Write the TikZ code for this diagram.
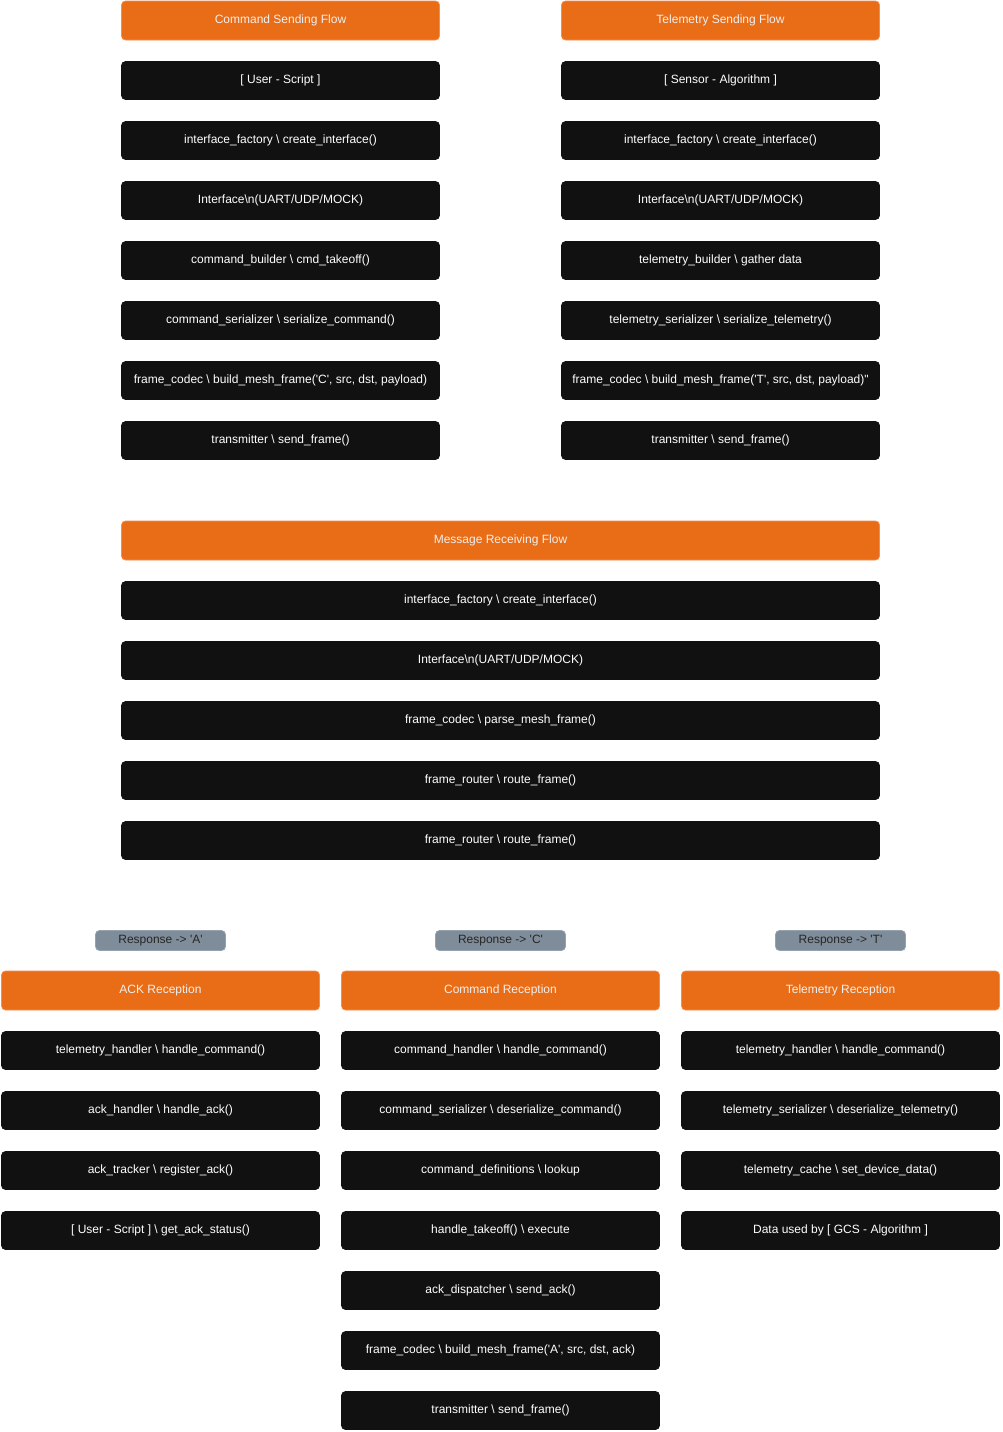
\documentclass[tikz,border=0pt]{standalone}
\usepackage{fontspec}
\setmainfont{Liberation Sans}[Ligatures=TeXOff]
\usepackage{xcolor}
\usetikzlibrary{shapes}

\definecolor{flowOrange}{RGB}{233,109,22}
\definecolor{flowOrangeEdge}{RGB}{246,140,80}
\definecolor{stepBlack}{RGB}{17,17,17}
\definecolor{tagGray}{RGB}{127,140,154}
\definecolor{tagGrayEdge}{RGB}{150,162,175}

\newcommand{\bsl}{\textbackslash}
\newcommand{\us}{\textunderscore}

\tikzset{
  basebox/.style={rectangle, rounded corners=4, inner sep=0, font=\fontsize{12}{14}\selectfont, line width=0.75},
  headbox/.style={basebox, fill=flowOrange, draw=flowOrangeEdge, text=white!94!black, minimum height=39},
  stepbox/.style={basebox, fill=stepBlack, draw=stepBlack, text=white, minimum height=38},
  tagbox/.style={basebox, fill=tagGray, draw=tagGrayEdge, text=black!85, minimum width=130, minimum height=20},
  narrow/.style={minimum width=318},
  wide/.style={minimum width=758}
}

\begin{document}
\begin{tikzpicture}[x=1pt,y=1pt,yscale=-1,xscale=1]

        \useasboundingbox (0,0) rectangle (1002,1432);

        % command sending flow
        \node[headbox, narrow] (cmdHead) at (280.5,20.5) {Command Sending Flow};
        \node[stepbox, narrow] (cmdUser) at (280.5,80.5) {[ User - Script ]};
        \node[stepbox, narrow] (cmdFactory) at (280.5,140.5) {interface\us factory \bsl{} create\us interface()};
        \node[stepbox, narrow] (cmdIface) at (280.5,200.5) {Interface\bsl n(UART/UDP/MOCK)};
        \node[stepbox, narrow] (cmdBuilder) at (280.5,260.5) {command\us builder \bsl{} cmd\us takeoff()};
        \node[stepbox, narrow] (cmdSerial) at (280.5,320.5) {command\us serializer \bsl{} serialize\us command()};
        \node[stepbox, narrow] (cmdCodec) at (280.5,380.5) {frame\us codec \bsl{} build\us mesh\us frame('C', src, dst, payload)};
        \node[stepbox, narrow] (cmdTx) at (280.5,440.5) {transmitter \bsl{} send\us frame()};

        % telemetry sending flow
        \node[headbox, narrow] (telHead) at (720.5,20.5) {Telemetry Sending Flow};
        \node[stepbox, narrow] (telSensor) at (720.5,80.5) {[ Sensor - Algorithm ]};
        \node[stepbox, narrow] (telFactory) at (720.5,140.5) {interface\us factory \bsl{} create\us interface()};
        \node[stepbox, narrow] (telIface) at (720.5,200.5) {Interface\bsl n(UART/UDP/MOCK)};
        \node[stepbox, narrow] (telBuilder) at (720.5,260.5) {telemetry\us builder \bsl{} gather data};
        \node[stepbox, narrow] (telSerial) at (720.5,320.5) {telemetry\us serializer \bsl{} serialize\us telemetry()};
        \node[stepbox, narrow] (telCodec) at (720.5,380.5) {frame\us codec \bsl{} build\us mesh\us frame('T', src, dst, payload)"};
        \node[stepbox, narrow] (telTx) at (720.5,440.5) {transmitter \bsl{} send\us frame()};

        % message receiving flow
        \node[headbox, wide] (rxHead) at (500.5,540.5) {Message Receiving Flow};
        \node[stepbox, wide] (rxFactory) at (500.5,600.5) {interface\us factory \bsl{} create\us interface()};
        \node[stepbox, wide] (rxIface) at (500.5,660.5) {Interface\bsl n(UART/UDP/MOCK)};
        \node[stepbox, wide] (rxCodec) at (500.5,720.5) {frame\us codec \bsl{} parse\us mesh\us frame()};
        \node[stepbox, wide] (rxRouteA) at (500.5,780.5) {frame\us router \bsl{} route\us frame()};
        \node[stepbox, wide] (rxRouteB) at (500.5,840.5) {frame\us router \bsl{} route\us frame()};

        % responses
        \node[tagbox] (tagA) at (160.5,940.5) {Response -> 'A'};
        \node[tagbox] (tagC) at (500.5,940.5) {Response -> 'C'};
        \node[tagbox] (tagT) at (840.5,940.5) {Response -> 'T'};

        % ack reception
        \node[headbox, narrow] (ackHead) at (160.5,990.5) {ACK Reception};
        \node[stepbox, narrow] (ackTel) at (160.5,1050.5) {telemetry\us handler \bsl{} handle\us command()};
        \node[stepbox, narrow] (ackHandler) at (160.5,1110.5) {ack\us handler \bsl{} handle\us ack()};
        \node[stepbox, narrow] (ackTracker) at (160.5,1170.5) {ack\us tracker \bsl{} register\us ack()};
        \node[stepbox, narrow] (ackUser) at (160.5,1230.5) {[ User - Script ] \bsl{} get\us ack\us status()};

        % command reception
        \node[headbox, narrow] (crxHead) at (500.5,990.5) {Command Reception};
        \node[stepbox, narrow] (crxHandler) at (500.5,1050.5) {command\us handler \bsl{} handle\us command()};
        \node[stepbox, narrow] (crxSerial) at (500.5,1110.5) {command\us serializer \bsl{} deserialize\us command()};
        \node[stepbox, narrow] (crxDefs) at (500.5,1170.5) {command\us definitions \bsl{} lookup};
        \node[stepbox, narrow] (crxExec) at (500.5,1230.5) {handle\us takeoff() \bsl{} execute};
        \node[stepbox, narrow] (crxAck) at (500.5,1290.5) {ack\us dispatcher \bsl{} send\us ack()};
        \node[stepbox, narrow] (crxCodec) at (500.5,1350.5) {frame\us codec \bsl{} build\us mesh\us frame('A', src, dst, ack)};
        \node[stepbox, narrow] (crxTx) at (500.5,1410.5) {transmitter \bsl{} send\us frame()};

        % telemetry reception
        \node[headbox, narrow] (trxHead) at (840.5,990.5) {Telemetry Reception};
        \node[stepbox, narrow] (trxHandler) at (840.5,1050.5) {telemetry\us handler \bsl{} handle\us command()};
        \node[stepbox, narrow] (trxSerial) at (840.5,1110.5) {telemetry\us serializer \bsl{} deserialize\us telemetry()};
        \node[stepbox, narrow] (trxCache) at (840.5,1170.5) {telemetry\us cache \bsl{} set\us device\us data()};
        \node[stepbox, narrow] (trxData) at (840.5,1230.5) {Data used by [ GCS - Algorithm ]};

    \end{tikzpicture}
\end{document}
